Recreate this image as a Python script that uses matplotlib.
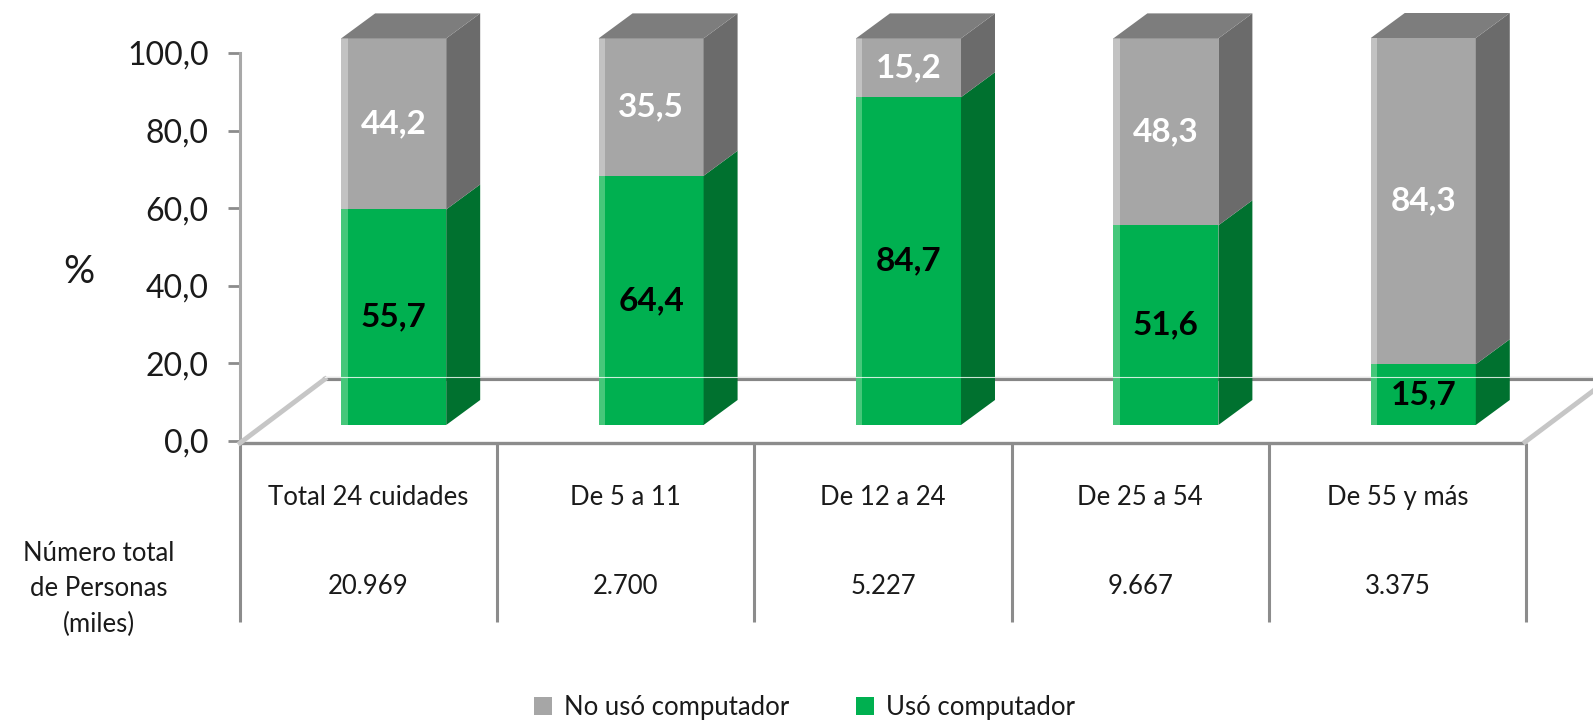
import matplotlib
matplotlib.use('Agg')
import matplotlib.pyplot as plt
from matplotlib.patches import Rectangle, Polygon
from matplotlib.lines import Line2D

categories = ["Total 24 cuidades", "De 5 a 11", "De 12 a 24", "De 25 a 54", "De 55 y más"]
uso = [55.7, 64.4, 84.7, 51.6, 15.7]
no_uso = [44.2, 35.5, 15.2, 48.3, 84.3]
personas = ["20.969", "2.700", "5.227", "9.667", "3.375"]
yticks = [0, 20, 40, 60, 80, 100]
legend_labels = ["No usó computador", "Usó computador"]
row_label = "Número total\nde Personas\n(miles)"

plt.rcParams['font.family'] = ['Lato', 'DejaVu Sans']

W, H = 1593, 723
fig = plt.figure(figsize=(W / 100, H / 100), dpi=100)


def fx(x):
    return x / W


def fy(y):
    return 1 - y / H


def rect(l, t, r, b):
    return [fx(l), fy(b), (r - l) / W, (b - t) / H]


GREEN = '#00b050'
GREEN_SIDE = '#00712f'
GREEN_EDGE = '#45c77a'
GRAY = '#a6a6a6'
GRAY_SIDE = '#6b6b6b'
GRAY_TOP = '#7d7d7d'
GRAY_EDGE = '#c2c2c2'
LINE = '#8c8c8c'
TXT = '#1a1a1a'
FS = 18.5

# ---- table axes ----
ax_tab = fig.add_axes(rect(240, 443, 1526, 622))
ax_tab.set_xlim(0, len(categories))
ax_tab.set_ylim(0, 1)
ax_tab.axis('off')
ax_tab.vlines(range(len(categories) + 1), 0, 1, color=LINE, lw=2.2, clip_on=False)
ax_tab.hlines(1, 0, len(categories), color=LINE, lw=2.4, clip_on=False)
for i, (c, p) in enumerate(zip(categories, personas)):
    ax_tab.text(i + 0.5, 0.693, c, ha='center', va='center', fontsize=FS, color=TXT)
    ax_tab.text(i + 0.5, 0.196, p, ha='center', va='center', fontsize=FS, color=TXT)
fig.text(fx(99), fy(589), row_label, ha='center', va='center', fontsize=FS,
         color=TXT, linespacing=1.5)

# ---- y axis ----
ax_y = fig.add_axes(rect(240, 53, 1526, 441))
ax_y.set_ylim(0, 100)
ax_y.set_xlim(0, 1)
ax_y.patch.set_visible(False)
for s in ['top', 'right', 'bottom']:
    ax_y.spines[s].set_visible(False)
ax_y.spines['left'].set_color('#a8a8a8')
ax_y.spines['left'].set_linewidth(2.2)
ax_y.set_xticks([])
ax_y.set_yticks(yticks)
ax_y.set_yticklabels([f"{v:.1f}".replace('.', ',') for v in yticks])
ax_y.tick_params(axis='y', length=8.6, width=2, color='#8c8c8c', pad=14,
                 labelsize=23, labelcolor=TXT)
fig.text(fx(79), fy(272), "%", ha='center', va='center', fontsize=28, color=TXT)

# ---- floor decoration ----
fig.add_artist(Line2D([fx(325), fx(1593)], [fy(379), fy(379)], color='#868686',
                      lw=3, zorder=0.5))
fig.add_artist(Line2D([fx(240), fx(325)], [fy(443), fy(379)], color='#c6c6c6',
                      lw=3.5, zorder=0.5))
fig.add_artist(Line2D([fx(1525), fx(1593)], [fy(442), fy(391)], color='#c6c6c6',
                      lw=3.5, zorder=0.5))

# ---- bars ----
ax_bar = fig.add_axes(rect(265, 38, 1552, 425))
ax_bar.set_xlim(-0.5, len(categories) - 0.5)
ax_bar.set_ylim(0, 100)
ax_bar.axis('off')
ax_bar.set_zorder(1)

w = 0.408
dx = 0.132
dy = 6.46
edge_w = 0.025


def draw_segment(x, b, v, front, side, edge, top=None):
    l, r = x - w / 2, x + w / 2
    ax_bar.add_patch(Rectangle((l, b), w, v, facecolor=front, edgecolor='none', clip_on=False))
    ax_bar.add_patch(Rectangle((l, b), edge_w, v, facecolor=edge, edgecolor='none', clip_on=False))
    ax_bar.add_patch(Polygon([(r, b), (r + dx, b + dy), (r + dx, b + v + dy), (r, b + v)],
                             closed=True, facecolor=side, edgecolor='none', clip_on=False))
    if top is not None:
        t = b + v
        ax_bar.add_patch(Polygon([(l, t), (l + dx, t + dy), (r + dx, t + dy), (r, t)],
                                 closed=True, facecolor=top, edgecolor='none', clip_on=False))


for i, (u, n) in enumerate(zip(uso, no_uso)):
    draw_segment(i, 0, u, GREEN, GREEN_SIDE, GREEN_EDGE)
    draw_segment(i, u, n, GRAY, GRAY_SIDE, GRAY_EDGE, top=GRAY_TOP)
    ax_bar.text(i, u / 2, f"{u:.1f}".replace('.', ','), ha='center', va='center',
                fontsize=24, fontweight='bold', color='black')
    ax_bar.text(i, u + n / 2, f"{n:.1f}".replace('.', ','), ha='center', va='center',
                fontsize=24, fontweight='bold', color='white')

fig.add_artist(Line2D([fx(325), fx(1593)], [fy(377), fy(377)], color='white',
                      lw=0.8, alpha=0.8, zorder=3))

# ---- legend ----
handles = [Rectangle((0, 0), 1, 1, facecolor=GRAY, edgecolor='none'),
           Rectangle((0, 0), 1, 1, facecolor=GREEN, edgecolor='none')]
fig.legend(handles, legend_labels, loc='center', bbox_to_anchor=(0.505, 0.022),
           ncol=2, frameon=False, fontsize=FS, handlelength=0.7, handleheight=0.7,
           handletextpad=0.45, columnspacing=2.6, labelcolor=TXT)

fig.savefig('out.png', dpi=100)
